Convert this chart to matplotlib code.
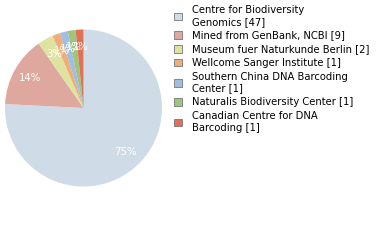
import matplotlib
matplotlib.use("Agg")
import matplotlib.pyplot as plt
from matplotlib.patches import Patch

# data
names = ["Centre for Biodiversity\nGenomics", "Mined from GenBank, NCBI",
         "Museum fuer Naturkunde Berlin", "Wellcome Sanger Institute",
         "Southern China DNA Barcoding\nCenter", "Naturalis Biodiversity Center",
         "Canadian Centre for DNA\nBarcoding"]
counts = [47, 9, 2, 1, 1, 1, 1]
colors = ["#cfdbe6", "#dfa89f", "#dfe3a0", "#f0ad78", "#9fbee0", "#9dc57b", "#e07157"]

fig = plt.figure(figsize=(3.8, 2.4), dpi=100)
ax = fig.add_axes([5/380, 53/240, 157/380, 158/240])

def pct(p):
    return "%d%%" % int(p)

wedges, texts, autotexts = ax.pie(counts, colors=colors, startangle=90, counterclock=False,
                                  autopct=pct, pctdistance=0.78,
                                  textprops=dict(color="white", fontsize=7.3))
ax.set_xlim(-1, 1)
ax.set_ylim(-1, 1)
ax.set_aspect("equal")

handles = [Patch(facecolor=c, edgecolor="#777777", linewidth=0.6) for c in colors]
labels = ["%s [%d]" % (n, c) for n, c in zip(names, counts)]
leg = fig.legend(handles, labels, loc="upper left", bbox_to_anchor=(174/380, 1 - 5/240),
                 frameon=False, fontsize=7.2, handlelength=0.8, handleheight=0.8,
                 handletextpad=1.0, labelspacing=0.38, borderpad=0, borderaxespad=0)
for t in leg.get_texts():
    t.set_linespacing(1.2)

fig.savefig("out.png", dpi=100)
